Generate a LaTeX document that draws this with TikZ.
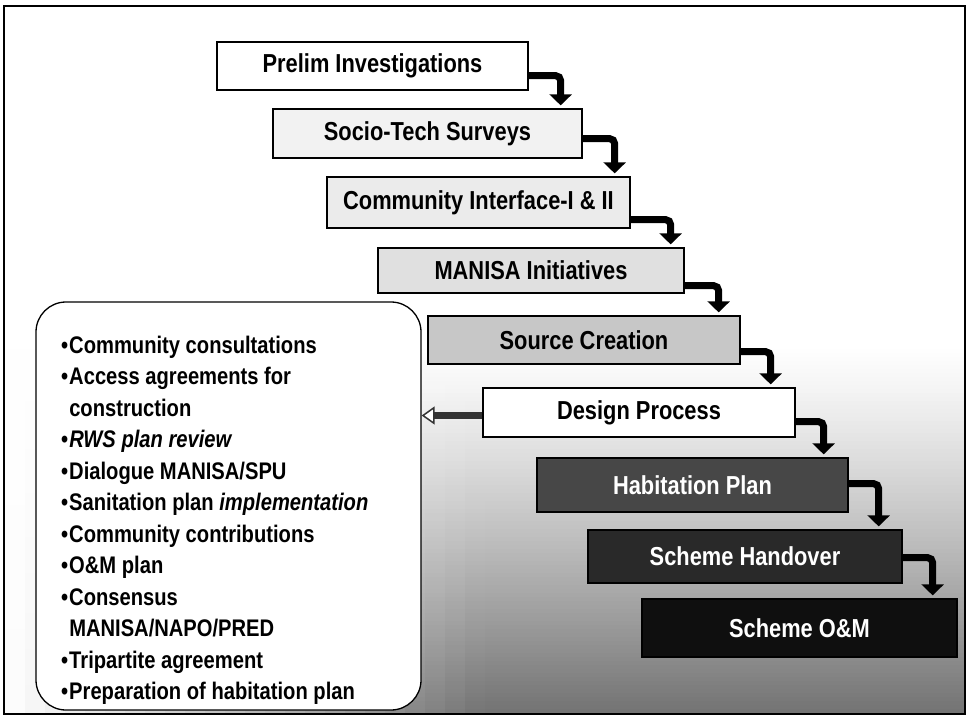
\documentclass[tikz,border=0pt]{standalone}
\usepackage{fontspec}
\setmainfont{Liberation Sans}[FakeStretch=0.84]
\usetikzlibrary{arrows.meta}

\tikzset{
  stage/.style={draw=black, line width=1.3pt, inner sep=0pt,
    font=\fontsize{26}{30}\selectfont\bfseries, text=black},
  stagedark/.style={stage, text=white},
  flow/.style={draw=black, line width=7pt, rounded corners=5pt,
    -{Triangle[width=22pt,length=11pt]}},
  pointer/.style={draw=black!80, line width=7pt,
    -{Triangle[width=18pt,length=13pt,fill=white,line width=1.5pt]}},
  notebox/.style={draw=black, line width=1.3pt, rounded corners=30pt, fill=white, inner sep=0pt},
  notes/.style={inner sep=0pt, anchor=north west, align=left,
    font=\fontsize{24}{31.5}\selectfont\bfseries},
}

\begin{document}
\begin{tikzpicture}[x=1pt,y=-1pt]
\useasboundingbox (0,0) rectangle (968,719);
\fill[white] (0,0) rectangle (968,719);

% backdrop darkening towards the bottom: thin horizontal bands
\foreach \i in {0,...,91}{
  \pgfmathsetmacro{\yy}{345+4*\i}
  \pgfmathsetmacro{\lev}{55*((\i+0.5)/92)^1.2}
  \fill[black!\lev] (5,\yy) rectangle (964,\yy+4.3);
}
% ... lightening towards the left edge
\foreach \j in {0,...,23}{
  \pgfmathsetmacro{\xx}{5+20*\j}
  \pgfmathsetmacro{\op}{1-(\j+0.5)/24}
  \fill[white, fill opacity=\op] (\xx,345) rectangle (\xx+20,713);
}

% the nine stages
\node[stage, fill=white,    minimum width=311, minimum height=48] (b1) at (372.5,66)  {Prelim Investigations};
\node[stage, fill=black!5,  minimum width=309, minimum height=49] (b2) at (427.5,133.5) {Socio-Tech Surveys};
\node[stage, fill=black!8,  minimum width=303, minimum height=51] (b3) at (478.5,202.5) {Community Interface-I \& II};
\node[stage, fill=black!12, minimum width=306, minimum height=45] (b4) at (531,270.5)  {MANISA Initiatives};
\node[stage, fill=black!22, minimum width=312, minimum height=48] (b5) at (584,340)    {Source Creation};
\node[stage, fill=white,    minimum width=312, minimum height=49] (b6) at (639,412.5)  {Design Process};
\node[stagedark, fill=black!72, minimum width=311, minimum height=54] (b7) at (692.5,485) {Habitation Plan};
\node[stagedark, fill=black!84, minimum width=314, minimum height=53] (b8) at (745,556.5) {Scheme Handover};
\node[stagedark, fill=black!94, minimum width=315, minimum height=58] (b9) at (799.5,628) {Scheme O\&M};

% bent arrows from each stage down to the next
\foreach \a/\b/\dy/\dx in {b1/b2/15/32, b2/b3/20/32, b3/b4/9/40, b4/b5/8/34,
                           b5/b6/13/30, b6/b7/16/28, b7/b8/29/30, b8/b9/26/30}{
  \coordinate (s-\a) at ([yshift=\dy pt]\a.south east);
  \coordinate (v-\a) at ([xshift=\dx pt]\a.east);
  \coordinate (t-\a) at ([yshift=3pt]\b.north);
  \draw[flow] (s-\a) -| (v-\a |- t-\a);
}

% activities of the design process
\node[notebox, minimum width=385, minimum height=408] (lb) at (228.5,506) {};
\node[notes] (items) at (61,331) {%
  \begin{tabular}{@{}l@{\hspace{1pt}}l@{}}
  \textbullet & Community consultations\\
  \textbullet & Access agreements for\\
              & construction\\
  \textbullet & \textit{RWS plan review}\\
  \textbullet & Dialogue MANISA/SPU\\
  \textbullet & Sanitation plan \textit{implementation}\\
  \textbullet & Community contributions\\
  \textbullet & O\&M plan\\
  \textbullet & Consensus\\
              & MANISA/NAPO/PRED\\
  \textbullet & Tripartite agreement\\
  \textbullet & Preparation of habitation plan
  \end{tabular}};

\coordinate (ha) at ([yshift=-3pt]b6.west);
\draw[pointer] (ha) -- (lb.east |- ha);

% outer frame
\draw[line width=2.5pt] (4,6) rectangle (965,714);
\end{tikzpicture}
\end{document}
